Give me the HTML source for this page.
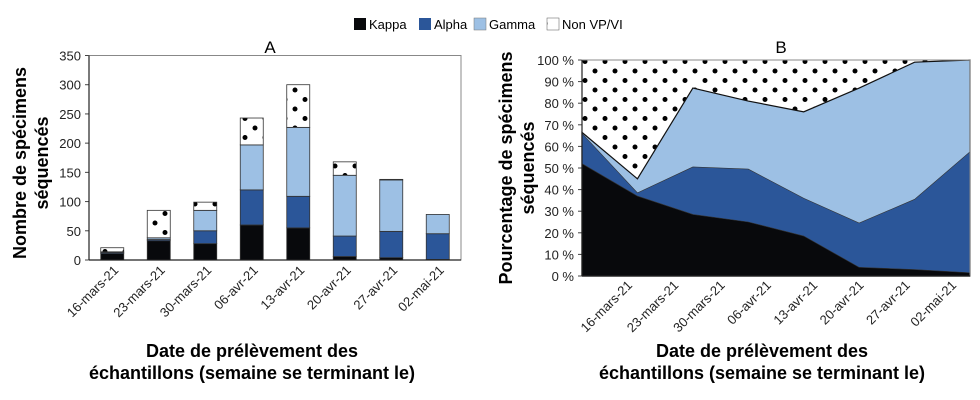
<!DOCTYPE html>
<html><head><meta charset="utf-8"><style>
html,body{margin:0;padding:0;background:#fff;}
svg{display:block;font-family:"Liberation Sans",sans-serif;}
</style></head><body>
<svg id="c" width="980" height="400" viewBox="0 0 980 400">
<defs>
<pattern id="dots" width="20" height="19" patternUnits="userSpaceOnUse">
<rect width="20" height="19" fill="#fff"/>
<circle cx="5" cy="4.5" r="2.5" fill="#000"/><circle cx="15" cy="14" r="2.5" fill="#000"/>
</pattern>
</defs>
<g font-size="13" fill="#000">
<g><rect x="354" y="18" width="12" height="12" fill="#08090c"/><text x="369" y="29">Kappa</text></g>
<g><rect x="419" y="18" width="12" height="12" fill="#2b5699"/><text x="434" y="29">Alpha</text></g>
<g><rect x="474" y="18" width="12" height="12" fill="#9dc0e4" stroke="#777" stroke-width="0.5"/><text x="489" y="29">Gamma</text></g>
<g><rect x="547" y="18" width="12" height="12" fill="url(#dots)" stroke="#555" stroke-width="0.5"/><text x="562" y="29">Non VP/VI</text></g>
</g>
<text x="270" y="53" font-size="17" text-anchor="middle">A</text>
<text x="781" y="53" font-size="17" text-anchor="middle">B</text>
<g id="A"></g>
<g id="B"></g>
<g font-size="18" font-weight="bold" fill="#000" text-anchor="middle">
<text transform="translate(26,163) rotate(-90)">Nombre de spécimens</text>
<text transform="translate(48,163) rotate(-90)">séquencés</text>
<text transform="translate(512,168) rotate(-90)">Pourcentage de spécimens</text>
<text transform="translate(534,168) rotate(-90)">séquencés</text>
<text x="252" y="357">Date de prélèvement des</text>
<text x="252" y="379">échantillons (semaine se terminant le)</text>
<text x="762" y="357">Date de prélèvement des</text>
<text x="762" y="379">échantillons (semaine se terminant le)</text>
</g>
</svg>
<script>
const categories = ["16-mars-21","23-mars-21","30-mars-21","06-avr-21","13-avr-21","20-avr-21","27-avr-21","02-mai-21"];
const kappaA = [11,33,28,60,55,6,4,1];
const alphaA = [2,2,22,60,54,35,45,44];
const gammaA = [1,3,35,77,118,104,88,33];
const nonA = [7,47,14,46,73,23,1,0];
const ticksA = [0,50,100,150,200,250,300,350];
const kappaB = [52,37,28.5,25,18.5,4,3,1.5];
const alphaB = [14,1.5,22,24.5,17.5,20.5,32.5,56];
const gammaB = [0.5,6.5,36.5,31.5,40,62.5,63.5,42.5];
const ticksB = [0,10,20,30,40,50,60,70,80,90,100];

const NS="http://www.w3.org/2000/svg";
function mk(tag,attrs,parent,txt){const e=document.createElementNS(NS,tag);for(const k in attrs)e.setAttribute(k,attrs[k]);if(txt!==undefined)e.textContent=txt;parent.appendChild(e);return e;}
const colors=["#08090c","#2b5699","#9dc0e4","url(#dots)"];
const sname=["kappa","alpha","gamma","non-vp-vi"];

// Chart A
const gA=document.getElementById('A');
const aL=89,aR=461,aT=55.5,aB=260,aMax=350;
const yA=v=>aB-(v/aMax)*(aB-aT);
const bandA=(aR-aL)/categories.length;
const xA=i=>aL+bandA*(i+0.5);
ticksA.forEach(t=>{
  const tl=mk('line',{x1:aL-4,x2:aL,y1:yA(t),y2:yA(t),stroke:'#444'},gA);
  
  
  const tx=mk('text',{x:aL-8,y:yA(t)+5,'font-size':13,'text-anchor':'end',fill:'#222'},gA,String(t));
  
  
});
const frA=mk('rect',{x:aL,y:aT,width:aR-aL,height:aB-aT,fill:'none',stroke:'#888','stroke-width':1},gA);


const seriesA=[kappaA,alphaA,gammaA,nonA];
categories.forEach((c,i)=>{
  let cum=0;
  seriesA.forEach((s,k)=>{
    const v=s[i]; if(v<=0) return;
    const r=mk('rect',{x:xA(i)-11.5,y:yA(cum+v),width:23,height:yA(cum)-yA(cum+v),fill:colors[k],stroke:'#333','stroke-width':0.8},gA);
    
    
    cum+=v;
  });
  const lb=mk('text',{transform:`translate(${xA(i)+7},${aB+11}) rotate(-45)`,'font-size':13,'text-anchor':'end',fill:'#222'},gA,c);
  
  
});
mk('line',{x1:aL,x2:aR,y1:aB,y2:aB,stroke:'#222','stroke-width':1.2},gA);
mk('line',{x1:aL,x2:aL,y1:aT,y2:aB,stroke:'#222','stroke-width':1.2},gA);

// Chart B
const gB=document.getElementById('B');
const bL=582,bR=970,bT=60,bB=276;
const yB=v=>bB-(v/100)*(bB-bT);
const xB=i=>bL+(bR-bL)*i/(categories.length-1);
ticksB.forEach(t=>{
  const gl=mk('line',{x1:bL,x2:bR,y1:yB(t),y2:yB(t),stroke:'#ddd'},gB);
  
  
  const tx=mk('text',{x:bL-8,y:yB(t)+5,'font-size':13,'text-anchor':'end',fill:'#222'},gB,t+' %');
  
  
  mk('line',{x1:bL-4,x2:bL,y1:yB(t),y2:yB(t),stroke:'#444'},gB);
});
const bg=mk('rect',{x:bL,y:bT,width:bR-bL,height:bB-bT,fill:'url(#dots)'},gB);


const seriesB=[kappaB,alphaB,gammaB];
const cum=categories.map(()=>0);
const layers=[];
seriesB.forEach(s=>{const lo=cum.slice();s.forEach((v,i)=>cum[i]+=v);layers.push([lo,cum.slice()]);});
for(let k=2;k>=0;k--){
  const hi=layers[k][1];
  let d2='M'+xB(0)+','+yB(hi[0]);
  for(let i=1;i<hi.length;i++) d2+=' L'+xB(i)+','+yB(hi[i]);
  d2+=' L'+xB(hi.length-1)+','+bB+' L'+xB(0)+','+bB+' Z';
  const p=mk('path',{d:d2,fill:colors[k],stroke:k==2?'#111':'#333','stroke-width':k==2?1.2:0.6},gB);
  
  
}
const frB=mk('rect',{x:bL,y:bT,width:bR-bL,height:bB-bT,fill:'none',stroke:'#888'},gB);


mk('line',{x1:bL,x2:bR,y1:bB,y2:bB,stroke:'#222','stroke-width':1.2},gB);
mk('line',{x1:bL,x2:bL,y1:bT,y2:bB,stroke:'#222','stroke-width':1.2},gB);
categories.forEach((c,i)=>{
  const lb=mk('text',{transform:`translate(${633+i*46.3},${bB+10}) rotate(-45)`,'font-size':13,'text-anchor':'end',fill:'#222'},gB,c);
  
  
});
</script>
</body></html>
